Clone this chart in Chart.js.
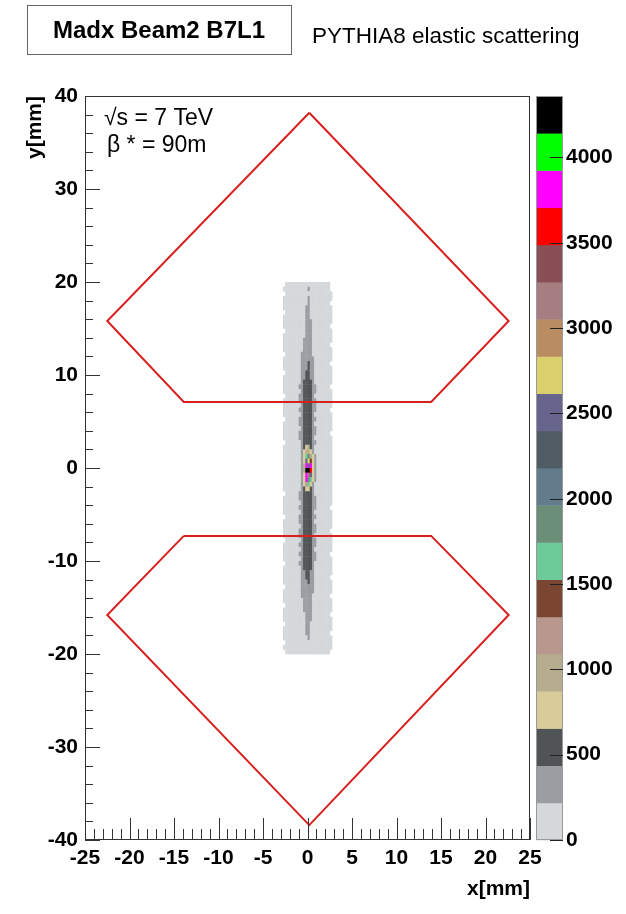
<!DOCTYPE html>
<html>
<head>
<meta charset="utf-8">
<script src="https://cdn.jsdelivr.net/npm/chart.js@4.4.0/dist/chart.umd.min.js"></script>
<style>
  html, body { margin: 0; padding: 0; background: #fff; }
  #wrap { width: 626px; height: 914px; }
</style>
</head>
<body>
<div id="wrap"><canvas id="c" width="626" height="914"></canvas></div>
<script>
// tick labels
var xTickValues = [-25, -20, -15, -10, -5, 0, 5, 10, 15, 20, 25];
var yTickValues = [-40, -30, -20, -10, 0, 10, 20, 30, 40];
var zTickValues = [0, 500, 1000, 1500, 2000, 2500, 3000, 3500, 4000];
var zMax = 4360;

// acceptance outlines (mm)
var upperX = [0.2, 22.6, 13.9, -13.9, -22.5, 0.2];
var upperY = [38.2, 15.8, 7.1, 7.1, 15.8, 38.2];
var lowerX = [-13.9, 13.9, 22.6, 0.2, -22.5, -13.9];
var lowerY = [-7.3, -7.3, -15.8, -38.4, -15.8, -7.3];

// 2D histogram: bins of 0.25 mm (x) by 0.5 mm (y), rows from y = 20 downwards
// one char per bin = colour level of the bin content ('.' = empty)
var histX0 = -2.75, histBinX = 0.25, histY0 = 20, histBinY = 0.5;
var levelCodes = '.123456789abcdefghijk';
var histRows = [
    '.11111111111111111111.',
    '111111111112111111111.',
    '.111111111111111111111',
    '1111111111121111111111',
    '111111111112111111111.',
    '1111111111221111111111',
    '.111111111221111111111',
    '1111111111221111111111',
    '1111111111222111111111',
    '111111111122211111111.',
    '.111111111222111111111',
    '1111111111222111111111',
    '1111111112222111111111',
    '111111111222211111111.',
    '1111111112222111111111',
    '.111111122222111111111',
    '1111111122222211111111',
    '111111112223221111111.',
    '1111111122232211111111',
    '.111111122332211111111',
    '1111111122332211111111',
    '1111111123333211111111',
    '111111122333322111111.',
    '1111111123333221111111',
    '.111111223333211111111',
    '1111111223333221111111',
    '1111111123333221111111',
    '111111122333322111111.',
    '1111111123333211111111',
    '.111111223333221111111',
    '1111111223333211111111',
    '1111111123333221111111',
    '111111122333322111111.',
    '1111111223333211111111',
    '.111111123333221111111',
    '1111111123453211111111',
    '1111111124554211111111',
    '1111111124895421111111',
    '1111111124cd7421111111',
    '1111111125ici421111111',
    '1111111125kkh421111111',
    '1111111124ifc421111111',
    '1111111124i98421111111',
    '1111111124684211111111',
    '1111111123443211111111',
    '.111111223333211111111',
    '1111111223333221111111',
    '1111111123333221111111',
    '111111122333322111111.',
    '1111111123333211111111',
    '.111111223333221111111',
    '1111111223333211111111',
    '1111111123333221111111',
    '111111122333322111111.',
    '1111111223333211111111',
    '.111111123333221111111',
    '1111111223333221111111',
    '1111111123333211111111',
    '111111122333322111111.',
    '1111111123333221111111',
    '.111111223333211111111',
    '1111111123333211111111',
    '1111111122332211111111',
    '111111112233221111111.',
    '1111111122232211111111',
    '.111111122222211111111',
    '1111111122222211111111',
    '111111112222211111111.',
    '1111111112222111111111',
    '.111111112222111111111',
    '1111111112222111111111',
    '111111111122211111111.',
    '1111111111222111111111',
    '.111111111221111111111',
    '1111111111221111111111',
    '111111111122111111111.',
    '1111111111121111111111',
    '.111111111111111111111',
    '1111111111111111111111',
    '.11111111111111111111.'
];

// ROOT palette, lowest level first
var palette = [
    '#d4d8da', '#9a9ea2', '#505456', '#d9cc9a', '#b5ad8e',
    '#b9978d', '#7a4632', '#6ccb98', '#6a8e78', '#627c8c',
    '#515c65', '#67648d', '#dad06e', '#b98c62', '#a67d80',
    '#894f56', '#ff0000', '#ff00ff', '#00ff00', '#000000'
];

var fontFamily = "'Liberation Sans', Arial, sans-serif";
var tickFont = { family: fontFamily, size: 21, weight: 'bold' };
var plainLabel = function (v) { return String(v); };

var rootPlugin = {
    id: 'rootStyle',
    beforeDatasetsDraw: function (chart) {
        var ctx = chart.ctx;
        var xs = chart.scales.x, ys = chart.scales.y, zs = chart.scales.z;
        var area = chart.chartArea;
        var step = zMax / palette.length;
        ctx.save();
        histRows.forEach(function (row, r) {
            for (var c = 0; c < row.length; c++) {
                var n = levelCodes.indexOf(row[c]);
                if (n <= 0) continue;
                var z = (n - 0.5) * step;
                var k = Math.min(palette.length - 1, Math.floor(z / step));
                var px0 = xs.getPixelForValue(histX0 + c * histBinX);
                var px1 = xs.getPixelForValue(histX0 + (c + 1) * histBinX);
                var py0 = ys.getPixelForValue(histY0 - r * histBinY);
                var py1 = ys.getPixelForValue(histY0 - (r + 1) * histBinY);
                ctx.fillStyle = palette[k];
                ctx.fillRect(px0, py0, px1 - px0 + 0.4, py1 - py0 + 0.4);
            }
        });

        // colour bar
        var bx0 = area.right + 6, bx1 = area.right + 33;
        for (var i = 0; i < palette.length; i++) {
            var top = zs.getPixelForValue(Math.min(zMax, (i + 1) * step));
            var bot = zs.getPixelForValue(i * step);
            ctx.fillStyle = palette[i];
            ctx.fillRect(bx0, top, bx1 - bx0, bot - top + 0.4);
        }
        ctx.strokeStyle = '#999';
        ctx.lineWidth = 1;
        ctx.strokeRect(bx0 + 0.5, area.top + 0.5, bx1 - bx0 - 1, area.bottom - area.top - 1);
        ctx.strokeStyle = '#222';
        zTickValues.forEach(function (v) {
            var py = Math.round(zs.getPixelForValue(v)) + 0.5;
            ctx.beginPath();
            ctx.moveTo(bx1, py);
            ctx.lineTo(bx1 - 13, py);
            ctx.stroke();
        });
        ctx.restore();
    },
    afterDraw: function (chart) {
        var ctx = chart.ctx;
        var xs = chart.scales.x, ys = chart.scales.y;
        var area = chart.chartArea;
        ctx.save();

        // frame
        ctx.strokeStyle = '#333';
        ctx.lineWidth = 1;
        ctx.strokeRect(Math.round(area.left) + 0.5, Math.round(area.top) + 0.5,
            Math.round(area.right - area.left) - 1, Math.round(area.bottom - area.top) - 1);

        // inward ticks, major and minor
        ctx.beginPath();
        for (var v = -25; v <= 25; v += 1) {
            var px = Math.round(xs.getPixelForValue(v)) + 0.5;
            var len = (v % 5 === 0) ? 22 : 11;
            ctx.moveTo(px, area.bottom);
            ctx.lineTo(px, area.bottom - len);
        }
        for (var w = -40; w <= 40; w += 2) {
            var py = Math.round(ys.getPixelForValue(w)) + 0.5;
            var l2 = (w % 10 === 0) ? 15 : 8;
            ctx.moveTo(area.left, py);
            ctx.lineTo(area.left + l2, py);
        }
        ctx.stroke();

        // labels inside the frame
        ctx.fillStyle = '#000';
        ctx.textBaseline = 'alphabetic';
        ctx.textAlign = 'left';
        ctx.font = '23px ' + fontFamily;
        ctx.fillText('\u221As = 7 TeV', 104, 125);
        ctx.fillText('\u03B2 * = 90m', 107, 152);

        // title box
        ctx.strokeStyle = '#666';
        ctx.strokeRect(27.5, 5.5, 264, 49);
        ctx.font = 'bold 24px ' + fontFamily;
        ctx.textAlign = 'center';
        ctx.textBaseline = 'middle';
        ctx.fillText('Madx Beam2 B7L1', 159, 31);
        ctx.font = '22.5px ' + fontFamily;
        ctx.textAlign = 'left';
        ctx.fillText('PYTHIA8 elastic scattering', 312, 37);
        ctx.restore();
    }
};

var ctx = document.getElementById('c').getContext('2d');
var chart = new Chart(ctx, {
    type: 'scatter',
    data: {
        datasets: [
            {
                label: 'upper',
                data: upperX.map(function (x, i) { return { x: x, y: upperY[i] }; }),
                showLine: true,
                borderColor: '#d8201e',
                borderWidth: 2,
                pointRadius: 0,
                tension: 0,
                fill: false
            },
            {
                label: 'lower',
                data: lowerX.map(function (x, i) { return { x: x, y: lowerY[i] }; }),
                showLine: true,
                borderColor: '#d8201e',
                borderWidth: 2,
                pointRadius: 0,
                tension: 0,
                fill: false
            }
        ]
    },
    options: {
        responsive: false,
        animation: false,
        events: [],
        layout: { padding: { top: 96, left: 0, right: 0, bottom: 0 } },
        plugins: {
            legend: { display: false },
            tooltip: { enabled: false }
        },
        scales: {
            x: {
                type: 'linear',
                position: 'bottom',
                min: -25,
                max: 25,
                grid: { display: false, drawTicks: false },
                border: { display: false },
                afterBuildTicks: function (scale) {
                    scale.ticks = xTickValues.map(function (v) { return { value: v }; });
                },
                ticks: { color: '#000', font: tickFont, padding: 6, autoSkip: false, maxRotation: 0, callback: plainLabel },
                title: {
                    display: true, text: 'x[mm]', align: 'end', color: '#000',
                    font: tickFont, padding: { top: 0, bottom: 12 }
                },
                afterFit: function (scale) { scale.height = 74; }
            },
            y: {
                type: 'linear',
                position: 'left',
                min: -40,
                max: 40,
                grid: { display: false, drawTicks: false },
                border: { display: false },
                afterBuildTicks: function (scale) {
                    scale.ticks = yTickValues.map(function (v) { return { value: v }; });
                },
                ticks: { color: '#000', font: tickFont, padding: 7, autoSkip: false, callback: plainLabel },
                title: {
                    display: true, text: 'y[mm]', align: 'end', color: '#000',
                    font: tickFont, padding: { top: 23, bottom: 0 }
                },
                afterFit: function (scale) { scale.width = 85; }
            },
            z: {
                type: 'linear',
                position: 'right',
                min: 0,
                max: zMax,
                grid: { display: false, drawTicks: false },
                border: { display: false },
                afterBuildTicks: function (scale) {
                    scale.ticks = zTickValues.map(function (v) { return { value: v }; });
                },
                ticks: { color: '#000', font: tickFont, padding: 36, autoSkip: false, callback: plainLabel },
                afterFit: function (scale) { scale.width = 96; }
            }
        }
    },
    plugins: [rootPlugin]
});
</script>
</body>
</html>
